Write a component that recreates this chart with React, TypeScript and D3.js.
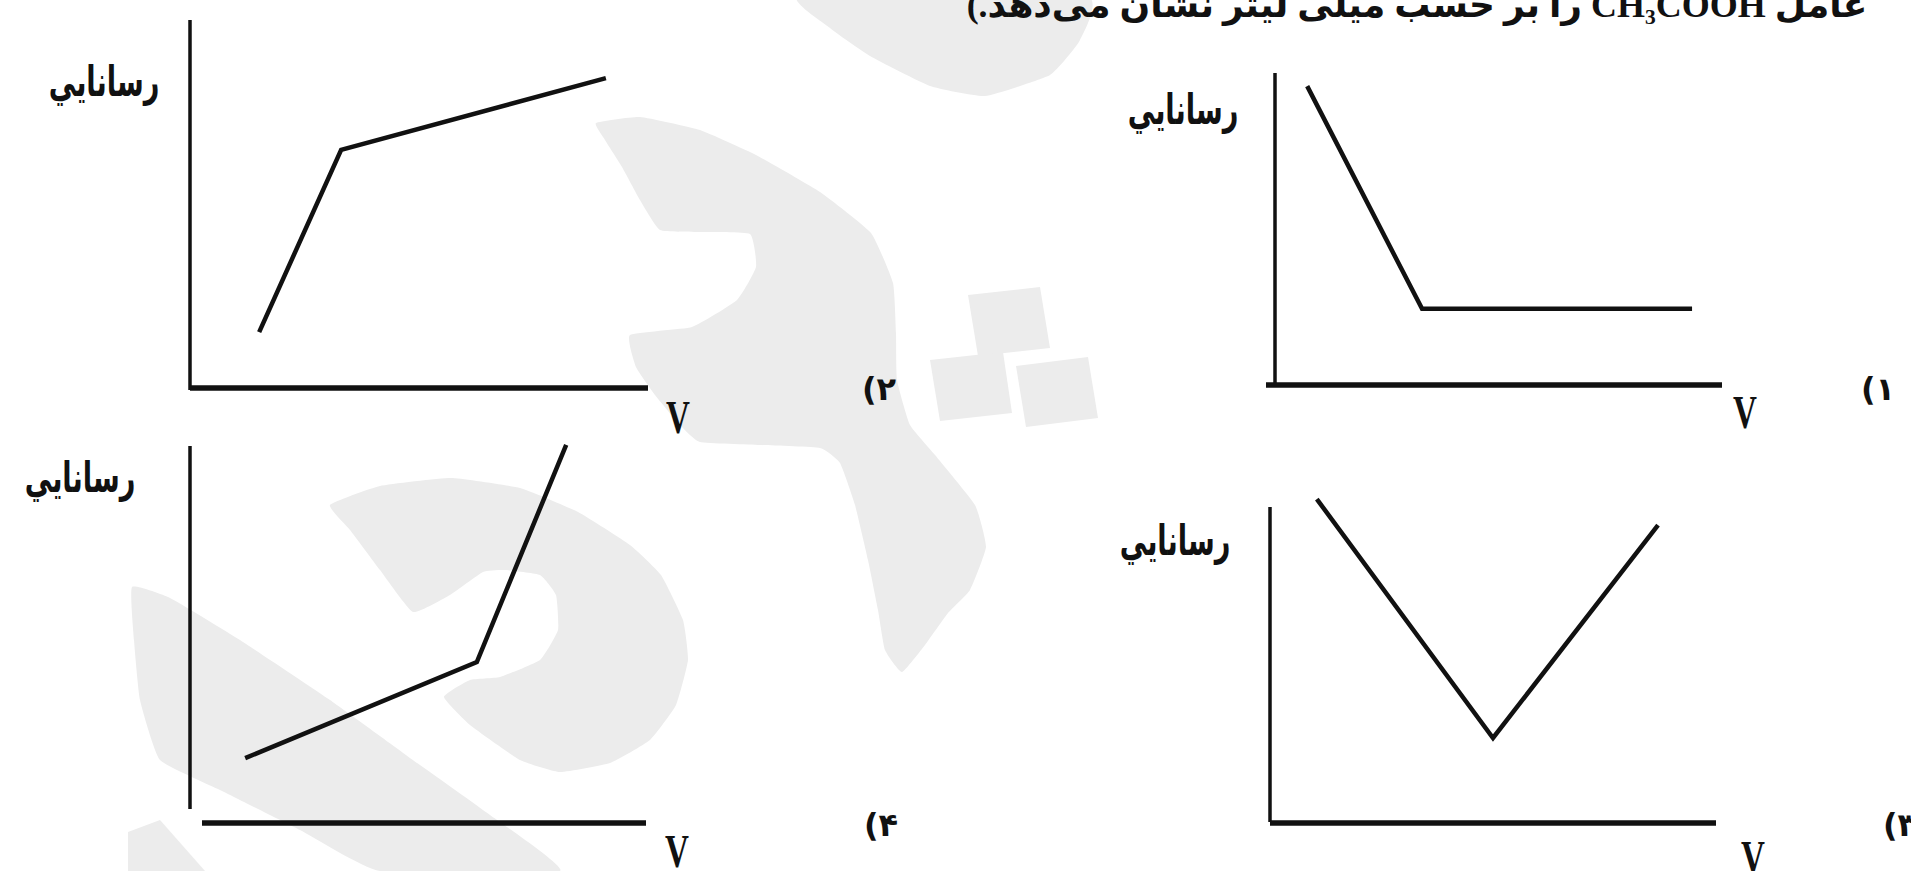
import React from "react";
import * as d3 from "d3";

// ---- data ----
const titleText = "عامل  CH₃COOH را بر حسب میلی لیتر نشان می‌دهد.)";
const yLabelText = "رسانايي";
const xLabelText = "V";
const optionLabels = ["۱)", "۲)", "۳)", "۴)"];

// each option: piecewise-linear conductivity vs volume (domain 0..10)
const opt1X = [0.72, 3.29, 9.33];
const opt1Y = [9.58, 2.44, 2.44];
const opt2X = [1.51, 3.3, 9.08];
const opt2Y = [1.52, 6.47, 8.42];
const opt3X = [1.05, 5.0, 8.7];
const opt3Y = [10.25, 2.69, 9.43];
const opt4X = [1.21, 6.29, 8.25];
const opt4Y = [1.72, 4.27, 10.03];

const seriesX = [opt1X, opt2X, opt3X, opt4X];
const seriesY = [opt1Y, opt2Y, opt3Y, opt4Y];

// ---- layout (frames of the four small plots) ----
const frames = [
  { yAxisX: 1275, yTop: 73, yBottom: 386, xAxisY: 385, xStart: 1266, xEnd: 1722, lab: [1183, 124], v: [1745, 428], num: [1878, 400] },
  { yAxisX: 190, yTop: 20, yBottom: 390, xAxisY: 388, xStart: 190, xEnd: 648, lab: [104, 96], v: [678, 433], num: [879, 400] },
  { yAxisX: 1270, yTop: 507, yBottom: 822, xAxisY: 823, xStart: 1270, xEnd: 1716, lab: [1175, 555], v: [1753, 873], num: [1900, 836] },
  { yAxisX: 190, yTop: 446, yBottom: 809, xAxisY: 823, xStart: 202, xEnd: 646, lab: [80, 492], v: [677, 867], num: [881, 836] },
];

// watermark decoration (light grey logo shapes)
const wmShapes: [number, number][][] = [
  [[800, -5], [1085, -5], [1080, 40], [1050, 75], [985, 96], [930, 86], [870, 56], [830, 28]],
  [[596, 123], [640, 117], [700, 130], [756, 155], [820, 192], [871, 233], [893, 283], [896, 333], [897, 380], [910, 425], [935, 455], [975, 505], [986, 547], [970, 590], [948, 613], [925, 645], [902, 672], [885, 650], [878, 610], [868, 560], [855, 505], [840, 463], [820, 448], [760, 445], [700, 442], [680, 425], [655, 395], [636, 367], [630, 335], [692, 327], [737, 300], [756, 267], [750, 234], [700, 232], [660, 230], [640, 200], [622, 167], [605, 140]],
  [[968, 295], [1040, 287], [1050, 348], [978, 356]],
  [[930, 360], [1003, 352], [1012, 413], [940, 421]],
  [[1016, 366], [1088, 357], [1098, 418], [1026, 427]],
  [[330, 505], [380, 486], [451, 478], [520, 488], [578, 512], [630, 545], [661, 575], [683, 620], [688, 660], [676, 705], [650, 740], [610, 763], [560, 772], [520, 760], [470, 725], [444, 697], [470, 680], [500, 677], [540, 660], [558, 630], [556, 595], [540, 575], [505, 570], [483, 572], [450, 595], [413, 612], [380, 570], [350, 530]],
  [[132, 587], [170, 598], [240, 640], [330, 700], [420, 765], [490, 815], [560, 871], [380, 871], [300, 830], [220, 790], [160, 760], [140, 700], [134, 640]],
  [[128, 832], [160, 820], [205, 871], [128, 871]],
];

export default function App() {
  const line = d3.line<[number, number]>().curve(d3.curveLinear);
  const blob = d3.line<[number, number]>().curve(d3.curveCardinalClosed.tension(0.6));

  return (
    <svg
      width={1911}
      height={871}
      style={{ position: "fixed", left: 0, top: 0, background: "#ffffff", display: "block" }}
    >
      <rect x={0} y={0} width={1911} height={871} fill="#ffffff" />
      <g fill="#ececec" stroke="none">
        {wmShapes.map((s, i) => (
          <path key={i} d={(s.length <= 4 ? line(s) + "Z" : blob(s)) || ""} />
        ))}
      </g>

      <text
        x={1417}
        y={17}
        textAnchor="middle"
        direction="rtl"
        fontFamily="'Liberation Serif', 'DejaVu Sans', serif"
        fontWeight="bold"
        fontSize={36}
        fill="#111"
      >
        {titleText}
      </text>

      {frames.map((f, i) => {
        const x = d3.scaleLinear().domain([0, 10]).range([f.yAxisX, f.xEnd]);
        const y = d3.scaleLinear().domain([0, 10]).range([f.xAxisY, f.yTop]);
        const pts: [number, number][] = seriesX[i].map((vx, k) => [x(vx), y(seriesY[i][k])]);
        return (
          <g key={i}>
            <line x1={f.yAxisX} x2={f.yAxisX} y1={f.yTop} y2={f.yBottom} stroke="#111" strokeWidth={3.5} />
            <line x1={f.xStart} x2={f.xEnd} y1={f.xAxisY} y2={f.xAxisY} stroke="#111" strokeWidth={5.5} />
            <path d={line(pts) || ""} fill="none" stroke="#111" strokeWidth={4.5} strokeLinejoin="miter" strokeLinecap="butt" />
            <text
              transform={`translate(${f.lab[0]},${f.lab[1]}) scale(0.85,1.3)`}
              textAnchor="middle"
              direction="rtl"
              fontFamily="'DejaVu Sans', sans-serif"
              fontWeight="bold"
              fontSize={32}
              fill="#111"
            >
              {yLabelText}
            </text>
            <text
              transform={`translate(${f.v[0]},${f.v[1]}) scale(0.72,1)`}
              textAnchor="middle"
              fontFamily="'Liberation Serif', serif"
              fontWeight="bold"
              fontSize={46}
              fill="#111"
            >
              {xLabelText}
            </text>
            <text
              x={f.num[0]}
              y={f.num[1]}
              textAnchor="middle"
              direction="rtl"
              fontFamily="'DejaVu Sans', sans-serif"
              fontWeight="bold"
              fontSize={32}
              fill="#111"
            >
              {optionLabels[i]}
            </text>
          </g>
        );
      })}
    </svg>
  );
}
